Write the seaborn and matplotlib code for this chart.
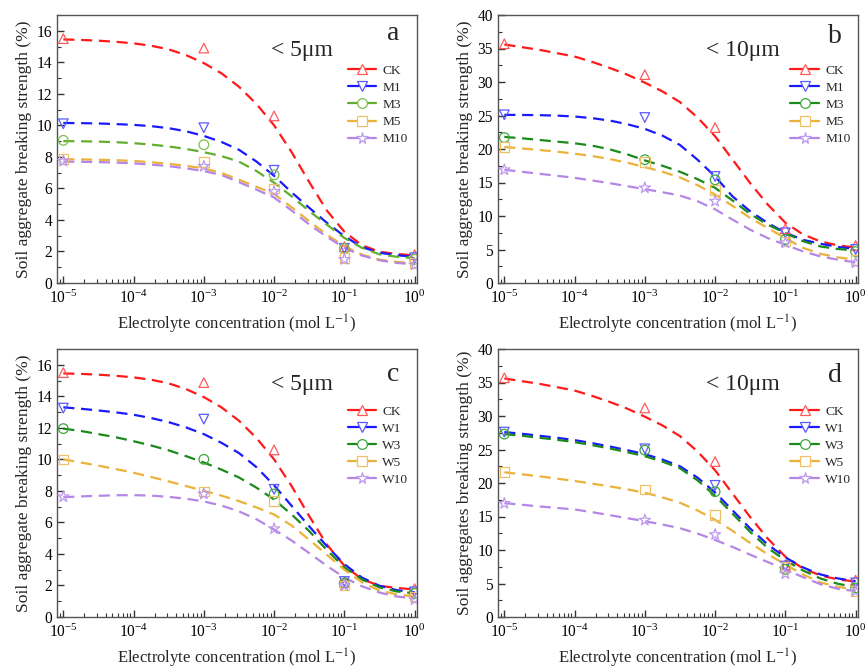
import numpy as np
import pandas as pd
import matplotlib
matplotlib.use("Agg")
import matplotlib.pyplot as plt
import seaborn as sns
from matplotlib.lines import Line2D
from matplotlib.ticker import MultipleLocator, LogLocator, NullFormatter

# ---------------- data ----------------
conc = [1e-5, 1e-3, 1e-2, 1e-1, 1e0]
curve_log_conc = [-5, -4.75, -4.5, -4.25, -4, -3.75, -3.5, -3.25, -3, -2.75, -2.5,
                  -2.25, -2, -1.75, -1.5, -1.25, -1, -0.75, -0.5, -0.25, 0]

series_M = ["CK", "M1", "M3", "M5", "M10"]
series_W = ["CK", "W1", "W3", "W5", "W10"]

# panel a (<5 um, M treatments) measured points
pts_a_CK = [15.5, 14.9, 10.6, 2.3, 1.8]
pts_a_M1 = [10.1, 9.85, 7.15, 2.2, 1.6]
pts_a_M3 = [9.05, 8.77, 6.86, 2.2, 1.5]
pts_a_M5 = [7.88, 7.67, 6.0, 1.57, 1.25]
pts_a_M10 = [7.73, 7.4, 5.8, 1.5, 1.15]
# panel a fitted curves
fit_a_CK = [15.45, 15.42, 15.37, 15.3, 15.2, 15.05, 14.82, 14.45, 13.95, 13.3, 12.45,
            11.35, 10.0, 8.3, 6.4, 4.6, 3.25, 2.4, 1.98, 1.84, 1.75]
fit_a_M1 = [10.15, 10.14, 10.12, 10.08, 10.03, 9.95, 9.82, 9.62, 9.33, 8.95, 8.45,
            7.7, 6.8, 5.75, 4.77, 3.82, 2.97, 2.28, 1.92, 1.76, 1.66]
fit_a_M3 = [9.0, 8.99, 8.97, 8.93, 8.87, 8.78, 8.66, 8.5, 8.3, 8.05, 7.7,
            7.1, 6.36, 5.5, 4.56, 3.71, 2.86, 2.23, 1.82, 1.66, 1.58]
fit_a_M5 = [7.85, 7.84, 7.82, 7.79, 7.74, 7.66, 7.56, 7.43, 7.27, 6.98, 6.55,
            6.1, 5.65, 4.8, 3.92, 3.07, 2.33, 1.8, 1.48, 1.33, 1.27]
fit_a_M10 = [7.7, 7.69, 7.67, 7.64, 7.59, 7.51, 7.41, 7.27, 7.1, 6.85, 6.4,
             5.92, 5.42, 4.6, 3.71, 2.93, 2.23, 1.74, 1.44, 1.27, 1.19]

# panel b (<10 um, M treatments)
pts_b_CK = [35.7, 31.1, 23.2, 8.1, 5.6]
pts_b_M1 = [25.1, 24.7, 15.9, 7.5, 5.0]
pts_b_M3 = [21.7, 18.4, 15.4, 6.5, 4.7]
pts_b_M5 = [20.3, 18.05, 13.9, 6.2, 3.4]
pts_b_M10 = [16.9, 14.2, 12.2, 6.0, 3.0]
fit_b_CK = [35.6, 35.2, 34.8, 34.3, 33.8, 33.0, 32.1, 31.1, 29.9, 28.6, 27.0,
            24.7, 21.9, 18.4, 14.9, 11.7, 9.0, 7.25, 6.2, 5.6, 5.3]
fit_b_M1 = [25.1, 25.08, 25.05, 24.98, 24.85, 24.6, 24.25, 23.7, 23.0, 22.0, 20.6,
            18.4, 15.9, 12.9, 10.7, 8.95, 7.5, 6.45, 5.86, 5.38, 5.08]
fit_b_M3 = [21.8, 21.6, 21.35, 21.1, 20.85, 20.5, 19.95, 19.2, 18.3, 17.5, 16.6,
            15.5, 14.2, 12.3, 10.3, 8.7, 7.45, 6.25, 5.45, 5.07, 4.86]
fit_b_M5 = [20.3, 20.08, 19.85, 19.6, 19.3, 18.95, 18.5, 17.95, 17.3, 16.6, 15.75,
            14.6, 13.2, 11.5, 9.7, 8.2, 6.7, 5.25, 4.35, 3.82, 3.47]
fit_b_M10 = [16.9, 16.6, 16.3, 16.0, 15.7, 15.3, 14.9, 14.45, 14.0, 13.55, 13.05,
             12.2, 11.0, 9.45, 7.95, 6.7, 5.7, 4.72, 3.97, 3.47, 3.07]

# panel c (<5 um, W treatments)
pts_c_CK = [15.5, 14.87, 10.6, 2.2, 1.8]
pts_c_W1 = [13.25, 12.55, 8.1, 2.25, 1.6]
pts_c_W3 = [11.95, 10.0, 7.8, 2.15, 1.5]
pts_c_W5 = [10.0, 7.95, 7.35, 2.0, 1.3]
pts_c_W10 = [7.63, 7.8, 5.6, 2.0, 1.1]
fit_c_CK = [15.45, 15.42, 15.37, 15.3, 15.2, 15.05, 14.82, 14.45, 13.95, 13.3, 12.45,
            11.35, 10.0, 8.3, 6.4, 4.6, 3.25, 2.4, 1.98, 1.84, 1.75]
fit_c_W1 = [13.3, 13.21, 13.1, 12.98, 12.83, 12.62, 12.36, 12.02, 11.6, 11.05, 10.4,
            9.5, 8.35, 7.05, 5.75, 4.5, 3.35, 2.5, 1.98, 1.7, 1.57]
fit_c_W3 = [11.95, 11.8, 11.6, 11.4, 11.15, 10.88, 10.57, 10.2, 9.8, 9.35, 8.85,
            8.2, 7.45, 6.5, 5.45, 4.25, 3.15, 2.38, 1.88, 1.62, 1.5]
fit_c_W5 = [10.0, 9.8, 9.6, 9.38, 9.15, 8.88, 8.6, 8.3, 8.0, 7.7, 7.35,
            6.95, 6.5, 5.8, 4.9, 3.95, 3.0, 2.2, 1.68, 1.43, 1.3]
fit_c_W10 = [7.6, 7.65, 7.69, 7.72, 7.73, 7.7, 7.62, 7.5, 7.33, 7.07, 6.7,
             6.2, 5.55, 4.85, 4.05, 3.25, 2.5, 1.95, 1.55, 1.3, 1.17]

# panel d (<10 um, W treatments)
pts_d_CK = [35.7, 31.2, 23.2, 7.8, 5.5]
pts_d_W1 = [27.6, 25.1, 19.65, 7.6, 5.1]
pts_d_W3 = [27.3, 24.9, 18.7, 7.1, 4.35]
pts_d_W5 = [21.65, 19.05, 15.2, 7.5, 3.85]
pts_d_W10 = [16.95, 14.45, 12.3, 6.45, 3.85]
fit_d_CK = [35.6, 35.2, 34.8, 34.3, 33.8, 33.0, 32.1, 31.1, 29.9, 28.6, 27.0,
            24.7, 21.9, 18.4, 14.9, 11.7, 9.0, 7.25, 6.2, 5.6, 5.3]
fit_d_W1 = [27.6, 27.35, 27.05, 26.75, 26.4, 25.95, 25.45, 24.9, 24.3, 23.5, 22.5,
            20.8, 18.6, 15.9, 13.2, 10.8, 8.9, 7.4, 6.35, 5.75, 5.35]
fit_d_W3 = [27.3, 27.05, 26.75, 26.45, 26.1, 25.65, 25.15, 24.6, 24.0, 23.2, 22.2,
            20.4, 18.1, 15.4, 12.7, 10.3, 8.45, 6.95, 5.75, 4.95, 4.45]
fit_d_W5 = [21.6, 21.3, 21.0, 20.65, 20.3, 19.9, 19.5, 19.05, 18.55, 17.85, 17.05,
            15.9, 14.5, 12.85, 11.05, 9.35, 7.85, 6.35, 5.15, 4.5, 4.1]
fit_d_W10 = [17.0, 16.75, 16.5, 16.28, 16.05, 15.65, 15.2, 14.75, 14.3, 13.8, 13.25,
             12.45, 11.5, 10.45, 9.3, 8.2, 7.1, 5.95, 4.9, 4.2, 3.85]

panels = [
    dict(letter="a", size="< 5μm", names=series_M, ymax=17, ymaj=2,
         ylabel="Soil aggregate breaking strength (%)",
         pts=[pts_a_CK, pts_a_M1, pts_a_M3, pts_a_M5, pts_a_M10],
         fit=[fit_a_CK, fit_a_M1, fit_a_M3, fit_a_M5, fit_a_M10],
         green="#62AE2E", leg_x=0.80, leg_y=0.825, let_y=0.93),
    dict(letter="b", size="< 10μm", names=series_M, ymax=40, ymaj=5,
         ylabel="Soil aggregate breaking strength (%)",
         pts=[pts_b_CK, pts_b_M1, pts_b_M3, pts_b_M5, pts_b_M10],
         fit=[fit_b_CK, fit_b_M1, fit_b_M3, fit_b_M5, fit_b_M10],
         green="#1A8A1A", leg_x=0.805, leg_y=0.825, let_y=0.92),
    dict(letter="c", size="< 5μm", names=series_W, ymax=17, ymaj=2,
         ylabel="Soil aggregate breaking strength (%)",
         pts=[pts_c_CK, pts_c_W1, pts_c_W3, pts_c_W5, pts_c_W10],
         fit=[fit_c_CK, fit_c_W1, fit_c_W3, fit_c_W5, fit_c_W10],
         green="#1A8A1A", leg_x=0.80, leg_y=0.80, let_y=0.905),
    dict(letter="d", size="< 10μm", names=series_W, ymax=40, ymaj=5,
         ylabel="Soil aggregates breaking strength (%)",
         pts=[pts_d_CK, pts_d_W1, pts_d_W3, pts_d_W5, pts_d_W10],
         fit=[fit_d_CK, fit_d_W1, fit_d_W3, fit_d_W5, fit_d_W10],
         green="#1A8A1A", leg_x=0.805, leg_y=0.80, let_y=0.90),
]

markers = ["^", "v", "o", "s", "*"]
line_cols = ["#FF1A1A", "#1A1AFF", None, "#EBB23A", "#B487E6"]
edge_cols = ["#FF5A5A", "#5A5AFF", None, "#F0C066", "#BE98EE"]
green_edge = {"#62AE2E": "#7CC04A", "#1A8A1A": "#3AA83A"}

# ---------------- style ----------------
sns.set_theme(style="ticks")
plt.rcParams["font.family"] = ["Liberation Serif", "DejaVu Serif"]
plt.rcParams["mathtext.fontset"] = "stix"
plt.rcParams["axes.edgecolor"] = "#555555"
plt.rcParams["axes.linewidth"] = 1.0

fig = plt.figure(figsize=(8.65, 6.69), dpi=100)
W, H = 865, 669
rects = [(57, 15), (498, 15), (57, 349), (498, 349)]
aw, ah = 360, 268

for p, (lx, ty) in zip(panels, rects):
    ax = fig.add_axes([lx / W, 1 - (ty + ah) / H, aw / W, ah / H])
    handles = []
    for i, name in enumerate(p["names"]):
        lc = line_cols[i] if line_cols[i] else p["green"]
        ec = edge_cols[i] if edge_cols[i] else green_edge[p["green"]]
        df_fit = pd.DataFrame({"x": np.power(10.0, curve_log_conc), "y": p["fit"][i]})
        sns.lineplot(data=df_fit, x="x", y="y", ax=ax, color=lc, lw=1.6,
                     dashes=False, legend=False, sort=False, zorder=2)
        ax.lines[-1].set_dashes((5, 3))
        df_pts = pd.DataFrame({"x": conc, "y": p["pts"][i]})
        ms = 70 if markers[i] == "*" else 48
        sns.scatterplot(data=df_pts, x="x", y="y", ax=ax, marker=markers[i], s=ms,
                        facecolor="none", edgecolor=ec, linewidth=0.9,
                        legend=False, zorder=3)
        handles.append(Line2D([0], [0], color=lc, lw=1.6, marker=markers[i],
                              markersize=8.5 if markers[i] == "*" else 7,
                              mfc="white", mec=ec, mew=0.9, label=name))
    ax.set_xscale("log")
    ax.set_xlim(10 ** -5.09, 10 ** 0.034)
    ax.set_ylim(0, p["ymax"])
    ax.yaxis.set_major_locator(MultipleLocator(p["ymaj"]))
    ax.yaxis.set_minor_locator(MultipleLocator(p["ymaj"] / 2))
    ax.xaxis.set_major_locator(LogLocator(base=10, numticks=10))
    ax.xaxis.set_minor_locator(LogLocator(base=10, subs=np.arange(2, 10), numticks=20))
    ax.xaxis.set_minor_formatter(NullFormatter())
    ax.tick_params(which="both", direction="in", top=False, right=False,
                   labelsize=11.2, colors="#333333", labelcolor="black")
    ax.tick_params(which="major", length=5, width=1)
    ax.tick_params(which="minor", length=3, width=0.8)
    ax.tick_params(axis="x", pad=5)
    for s in ax.spines.values():
        s.set_visible(True)
    ax.set_xlabel("Electrolyte concentration (mol L$^{-1}$)", fontsize=12, labelpad=4)
    ax.set_ylabel(p["ylabel"], fontsize=12.6, labelpad=3)
    ax.text(0.68, 0.868, p["size"], transform=ax.transAxes, fontsize=17,
            ha="center", va="center")
    ax.text(0.935, p["let_y"], p["letter"], transform=ax.transAxes, fontsize=20,
            ha="center", va="center")
    ax.legend(handles=handles, loc="upper left", bbox_to_anchor=(p["leg_x"], p["leg_y"]),
              frameon=False, fontsize=9.6, handlelength=2.15, handletextpad=0.45,
              labelspacing=0.36, borderpad=0.2, borderaxespad=0.0)

fig.savefig("out.png", dpi=100)
